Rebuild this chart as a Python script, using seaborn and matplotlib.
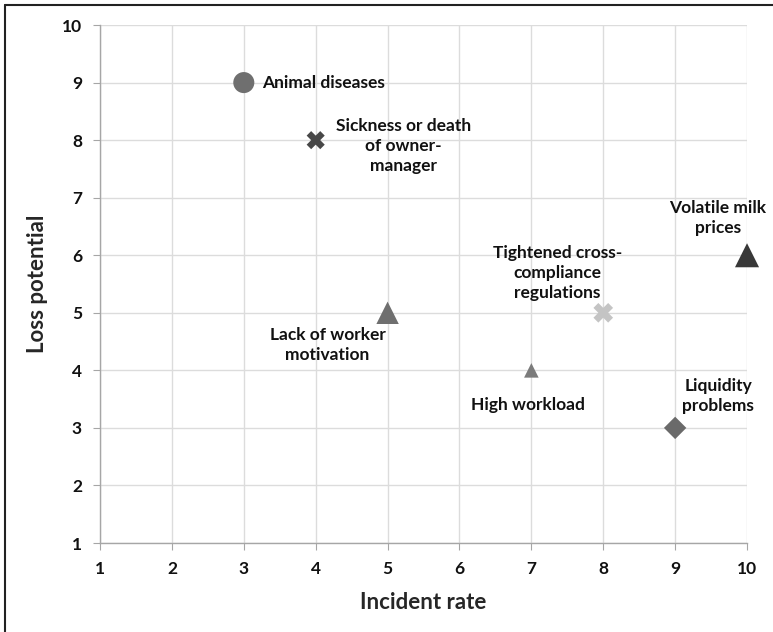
import matplotlib
matplotlib.use("Agg")
import matplotlib.pyplot as plt
import seaborn as sns
import pandas as pd
from matplotlib.lines import Line2D

# Risk matrix values
risks = ['Animal diseases', 'Sickness or death\nof owner-\nmanager', 'Lack of worker\nmotivation',
         'High workload', 'Tightened cross-\ncompliance\nregulations', 'Liquidity\nproblems',
         'Volatile milk\nprices']
incident_rate = [3, 4, 5, 7, 8, 9, 10]
loss_potential = [9, 8, 5, 4, 5, 3, 6]
ticks = list(range(1, 11))

# styling per point
marker_map = ['o', 'X', '^', '^', 'X', 'D', '^']
colour_map = ['#6f6f6f', '#474747', '#6f6f6f', '#7b7b7b', '#c4c4c4', '#6a6a6a', '#383838']
size_map = [230, 170, 260, 110, 200, 130, 300]
# label offsets in pixels (dx, dy) and alignment
label_pos = [(18, 0, 'left'), (88, -6, 'center'), (-60, -32, 'center'), (-3, -35, 'center'),
             (-46, 40, 'center'), (43, 32, 'center'), (-29, 37, 'center')]


def build_frame():
    return pd.DataFrame({'risk': risks, 'Incident rate': incident_rate,
                         'Loss potential': loss_potential})


def create_plot(data, output_file):
    sns.set_style('white')
    plt.rcParams['font.family'] = ['Lato', 'DejaVu Sans']
    fig = plt.figure(figsize=(7.73, 6.32), dpi=100)
    ax = fig.add_axes([0.1294, 0.1408, 0.8370, 0.8196])

    sns.scatterplot(
        data=data, x='Incident rate', y='Loss potential',
        hue='risk', style='risk', size='risk',
        palette=dict(zip(risks, colour_map)),
        markers=dict(zip(risks, marker_map)),
        sizes=dict(zip(risks, size_map)),
        linewidth=0, legend=False, clip_on=False, zorder=5, ax=ax
    )

    for i, row in data.iterrows():
        dx, dy, ha = label_pos[i]
        ax.annotate(row['risk'], (row['Incident rate'], row['Loss potential']),
                    xytext=(dx, dy), textcoords='offset pixels', ha=ha, va='center',
                    fontsize=12.5, fontweight='bold', color='#111111', linespacing=1.3)

    ax.set_xlim(1, 10)
    ax.set_ylim(1, 10)
    ax.set_xticks(ticks)
    ax.set_yticks(ticks)
    ax.grid(True, color='#dcdcdc', linewidth=1)
    for s in ['top', 'right']:
        ax.spines[s].set_visible(False)
    for s in ['left', 'bottom']:
        ax.spines[s].set_color('#a6a6a6')
        ax.spines[s].set_linewidth(1)
    ax.tick_params(axis='both', length=5, color='#a6a6a6', labelsize=12.5, pad=8,
                   labelcolor='#111111', bottom=True, left=True)
    for lab in ax.get_xticklabels() + ax.get_yticklabels():
        lab.set_fontweight('bold')
    ax.set_xlabel('Incident rate', fontsize=16, fontweight='bold', labelpad=11)
    ax.set_ylabel('Loss potential', fontsize=16, fontweight='bold', labelpad=10)

    # frame around the chart (only left and top edges are visible in the crop)
    fig.add_artist(Line2D([0.007, 0.007], [0, 0.992], transform=fig.transFigure,
                          color='#222222', linewidth=1.5))
    fig.add_artist(Line2D([0.007, 1], [0.992, 0.992], transform=fig.transFigure,
                          color='#222222', linewidth=1.5))

    fig.savefig(output_file, dpi=100)
    plt.close(fig)


def main():
    create_plot(build_frame(), 'out.png')


if __name__ == '__main__':
    main()
